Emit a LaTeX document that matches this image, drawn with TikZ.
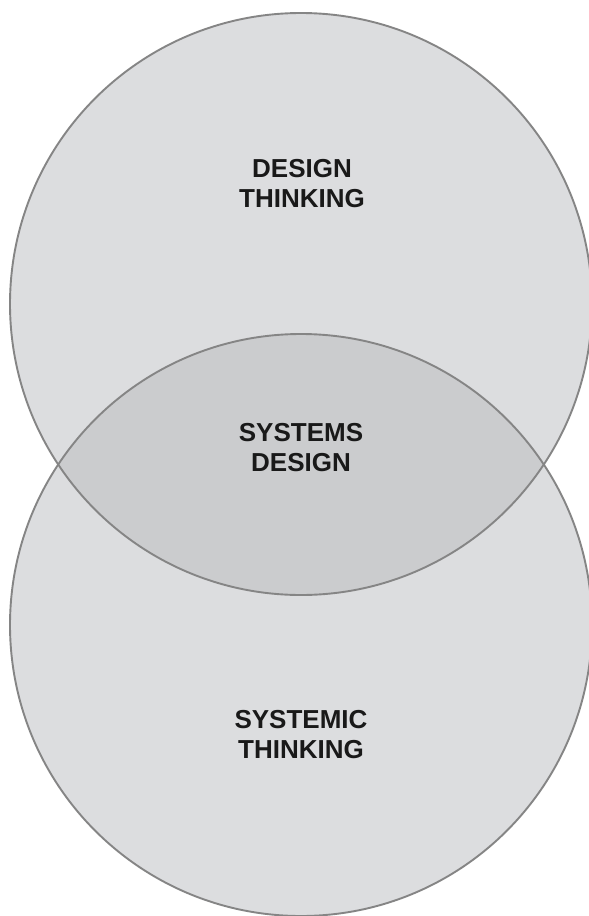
\documentclass[tikz,border=0pt]{standalone}
\usepackage{fontspec}
\setmainfont{Liberation Sans}
\definecolor{circfill}{HTML}{DCDDDF}
\definecolor{overfill}{HTML}{CBCCCE}
\definecolor{circline}{HTML}{858585}
\begin{document}
\begin{tikzpicture}[x=1pt,y=-1pt,
  lbl/.style={font=\fontsize{26}{30}\selectfont\bfseries, align=center, text=black!90, inner sep=0pt},
  ring/.style={draw=circline, line width=1.9pt}]
\useasboundingbox (0,0) rectangle (589,916);
\fill[white] (0,0) rectangle (589,916);
\coordinate (ct) at (301,304);
\coordinate (cb) at (301,625);
\fill[circfill] (ct) circle[radius=291];
\fill[circfill] (cb) circle[radius=291];
\begin{scope}
  \clip (ct) circle[radius=291];
  \fill[overfill] (cb) circle[radius=291];
\end{scope}
\draw[ring] (ct) circle[radius=291];
\draw[ring] (cb) circle[radius=291];
\node[lbl] (dt) at (302,184) {DESIGN\\THINKING};
\node[lbl] (sd) at (301,448) {SYSTEMS\\DESIGN};
\node[lbl] (st) at (301,735) {SYSTEMIC\\THINKING};
\end{tikzpicture}
\end{document}
